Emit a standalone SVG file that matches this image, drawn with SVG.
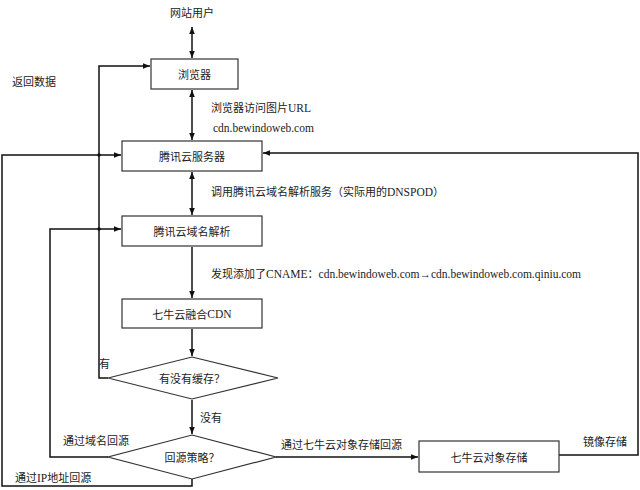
<svg xmlns="http://www.w3.org/2000/svg" width="640" height="490" viewBox="0 0 640 490">
<defs>
<marker id="ah" viewBox="0 0 10 10" refX="10" refY="5" markerWidth="7" markerHeight="7" orient="auto-start-reverse" markerUnits="userSpaceOnUse">
<path d="M0,1 L10,5 L0,9 z" fill="#111"/>
</marker>
<style>
.box{fill:#fff;stroke:#333;stroke-width:1.2}
.ln{fill:none;stroke:#111;stroke-width:1.5}
.t{font-family:"Noto Sans CJK SC","Liberation Sans",sans-serif;font-size:11px;fill:#222}
.s{font-family:"Liberation Serif",serif;font-size:11.5px}
.c{text-anchor:middle;dominant-baseline:central}
</style>
</defs>
<rect width="640" height="490" fill="#fff"/>
<g id="connectors">
<line class="ln" x1="192" y1="27" x2="192" y2="58" marker-start="url(#ah)" marker-end="url(#ah)"/>
<line class="ln" x1="192" y1="90" x2="192" y2="140" marker-start="url(#ah)" marker-end="url(#ah)"/>
<line class="ln" x1="192" y1="172" x2="192" y2="215" marker-start="url(#ah)" marker-end="url(#ah)"/>
<line class="ln" x1="192" y1="247" x2="192" y2="298" marker-end="url(#ah)"/>
<line class="ln" x1="192" y1="329" x2="192" y2="356" marker-end="url(#ah)"/>
<line class="ln" x1="192" y1="400" x2="192" y2="434" marker-end="url(#ah)"/>
<polyline class="ln" points="108,378 99,378 99,66 150,66" marker-end="url(#ah)"/>
<polyline class="ln" points="108,457 50,457 50,229 121,229" marker-end="url(#ah)"/>
<polyline class="ln" points="192,479 192,486 2,486 2,155 121,155" marker-end="url(#ah)"/>
<line class="ln" x1="276" y1="457" x2="418" y2="457" marker-end="url(#ah)"/>
<polyline class="ln" points="559,455 638,455 638,153 263,153" marker-end="url(#ah)"/>
<circle cx="99" cy="155" r="1.8" fill="#111"/>
<circle cx="99" cy="229" r="1.8" fill="#111"/>
</g>
<g id="user"><text class="t c" x="192" y="12">网站用户</text></g>
<g id="browser"><rect class="box" x="151" y="59" width="87" height="30"/><text class="t c" x="194.5" y="74">浏览器</text></g>
<g id="tencent-server"><rect class="box" x="122" y="141" width="140" height="30"/><text class="t c" x="192" y="156">腾讯云服务器</text></g>
<g id="tencent-dns"><rect class="box" x="122" y="216" width="140" height="30"/><text class="t c" x="192" y="231">腾讯云域名解析</text></g>
<g id="qiniu-cdn"><rect class="box" x="122" y="299" width="140" height="29"/><text class="t c" x="192" y="313.5">七牛云融合<tspan class="s">CDN</tspan></text></g>
<g id="cache-check"><polygon class="box" points="192,357 278,378 192,399 108,378"/><text class="t c" x="192" y="378">有没有缓存？</text></g>
<g id="origin-policy"><polygon class="box" points="192,435 276,457 192,479 108,457"/><text class="t c" x="192" y="457">回源策略？</text></g>
<g id="qiniu-storage"><rect class="box" x="419" y="441" width="140" height="31"/><text class="t c" x="489" y="456.5">七牛云对象存储</text></g>
<g id="labels">
<text class="t" x="12" y="86">返回数据</text>
<text class="t" x="211" y="112">浏览器访问图片<tspan class="s">URL</tspan></text>
<text class="t s" x="213" y="132">cdn.bewindoweb.com</text>
<text class="t" x="211" y="196">调用腾讯云域名解析服务（实际用的<tspan class="s">DNSPOD</tspan>）</text>
<text class="t" x="211" y="278">发现添加了<tspan class="s">CNAME</tspan>：<tspan class="s">cdn.bewindoweb.com→cdn.bewindoweb.com.qiniu.com</tspan></text>
<text class="t" x="99" y="368">有</text>
<text class="t" x="200" y="422">没有</text>
<text class="t" x="63" y="445">通过域名回源</text>
<text class="t" x="15" y="482">通过<tspan class="s">IP</tspan>地址回源</text>
<text class="t" x="281" y="449">通过七牛云对象存储回源</text>
<text class="t" x="583" y="446">镜像存储</text>
</g>
</svg>
